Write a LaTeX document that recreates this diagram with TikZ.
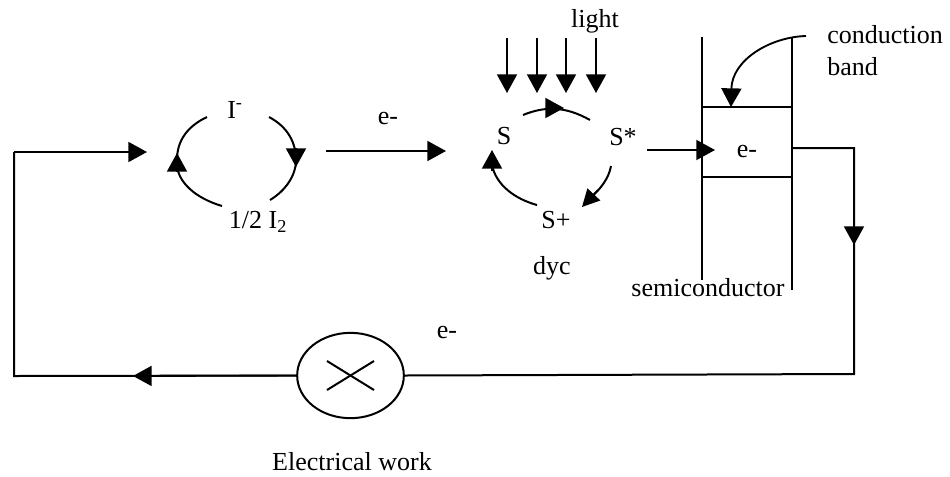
\documentclass[tikz,border=0pt]{standalone}
\usepackage{fontspec}
\setmainfont{Liberation Serif}
\usetikzlibrary{arrows.meta, shapes.geometric}
\tikzset{
	wire/.style={line width=1.5pt},
	thin wire/.style={line width=1.2pt},
	flow/.style={line width=1.4pt, -{Triangle[width=15pt, length=14pt]}},
	small flow/.style={line width=1.4pt, -{Triangle[width=13pt, length=13pt]}},
	label/.style={font=\fontsize{19.5pt}{22pt}\selectfont, inner sep=0pt}
}
\begin{document}
\begin{tikzpicture}[x=0.75pt, y=-0.75pt]
		\useasboundingbox (0,0) rectangle (950,476);
		\node[label] (light) at (595,21) {light};
		\node[label, anchor=west] (conduction) at (827,35) {conduction};
		\node[label, anchor=west] (band) at (827,67) {band};
		\node[label] (iodide) at (235,110) {I\textsuperscript{-}};
		\node[label] (iodine) at (258,222) {1/2 I\textsubscript{2}};
		\node[label] (eleft) at (388,118) {e-};
		\node[label] (dyeS) at (504,136) {S};
		\node[label] (dyeSstar) at (623,137) {S*};
		\node[label] (dyeSplus) at (556,220) {S+};
		\node[label] (dyc) at (552,268) {dyc};
		\node[label] (ebox) at (747,151) {e-};
		\node[label] (semi) at (708,288) {semiconductor};
		\node[label] (ework) at (447,332) {e-};
		\node[label] (work) at (352,462) {Electrical work};
		\node[draw, wire, ellipse, minimum width=80pt, minimum height=64pt, inner sep=0pt] (lamp) at (350.5,375.5) {};
		\draw [wire] (lamp.center)+(-23.5,-14.5) -- +(23.5,14.5);
		\draw [wire] (lamp.center)+(-23.5,14.5) -- +(23.5,-14.5);
		% outer circuit
		\coordinate (c1) at (14,376);
		\coordinate (c2) at (14,152);
		\coordinate (c3) at (147,152);
		\coordinate (c4) at (133,376);
		\coordinate (c5) at (854,374);
		\coordinate (c6) at (854,148);
		\coordinate (c7) at (793,148);
		\coordinate (c8) at (854,245);
		\draw [wire] (lamp.west)--(c1)--(c2);
		\draw [flow] (c2)--(c3);
		\draw [flow] (lamp.west)--(c4);
		\draw [wire] (lamp.east)--(c5)--(c6)--(c7);
		\draw [flow] (c6)--(c8);
		\draw [flow] (326,151)--(446,151);
		% iodide cycle
		\draw [wire] (269,117) .. controls (288,127) and (296,143) .. (296,160);
		\draw [flow] (296,148)--(296,167);
		\draw [wire] (296,160) .. controls (296,176) and (285,191) .. (270,200);
		\draw [wire] (222,206) .. controls (195,198) and (178,182) .. (177,165);
		\draw [flow] (177,172)--(177,153);
		\draw [wire] (177,160) .. controls (177,140) and (188,126) .. (207,117);
		% dye cycle
		\draw [wire] (523,115) .. controls (545,106) and (565,106) .. (590,120);
		\draw [flow] (546,108)--(564,108);
		\draw [wire] (611,166) .. controls (609,178) and (600,190) .. (590,198);
		\draw [small flow] (598,190)--(582,207);
		\draw [wire] (537,205) .. controls (515,199) and (496,185) .. (492,165);
		\draw [flow] (492,171)--(492,150);
		% light
		\draw [flow] (507,38)--(507,93);
		\draw [flow] (537,38)--(537,93);
		\draw [flow] (566,38)--(566,93);
		\draw [flow] (596,38)--(596,93);
		% semiconductor
		\draw [wire] (702,37)--(702,280);
		\draw [wire] (792,37)--(792,290);
		\draw [thin wire] (702,107)--(792,107);
		\draw [thin wire] (702,177)--(792,177);
		\draw [flow] (647,150)--(715,150);
		\draw [flow] (806,36) .. controls (770,37) and (732,60) .. (731,107);
	\end{tikzpicture}
\end{document}
